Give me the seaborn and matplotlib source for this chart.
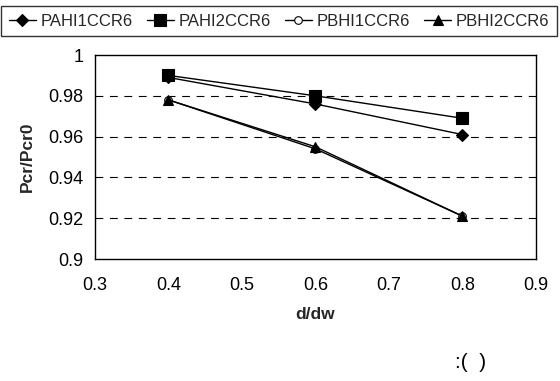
import matplotlib
matplotlib.use("Agg")
import matplotlib.pyplot as plt
import seaborn as sns
import pandas as pd

# Ratio d/dw and buckling load ratios Pcr/Pcr0 for each specimen series
d_dw = [0.4, 0.6, 0.8]
pahi1ccr6 = [0.989, 0.976, 0.961]
pahi2ccr6 = [0.990, 0.980, 0.969]
pbhi1ccr6 = [0.978, 0.954, 0.921]
pbhi2ccr6 = [0.978, 0.955, 0.921]

series_names = ["PAHI1CCR6", "PAHI2CCR6", "PBHI1CCR6", "PBHI2CCR6"]
series_values = [pahi1ccr6, pahi2ccr6, pbhi1ccr6, pbhi2ccr6]

x_ticks = [0.3, 0.4, 0.5, 0.6, 0.7, 0.8, 0.9]
y_ticks = [0.9, 0.92, 0.94, 0.96, 0.98, 1.0]
y_tick_labels = ["0.9", "0.92", "0.94", "0.96", "0.98", "1"]

sns.set_theme(style="white")
plt.rcParams["font.family"] = ["Liberation Sans", "DejaVu Sans"]

rows = []
for name, vals in zip(series_names, series_values):
    for xv, yv in zip(d_dw, vals):
        rows.append({"d/dw": xv, "Pcr/Pcr0": yv, "series": name})
df = pd.DataFrame(rows)

fig = plt.figure(figsize=(5.6, 3.81), dpi=100)
ax = fig.add_axes([0.1696, 0.3202, 0.957 - 0.1696, 0.8556 - 0.3202])

styles = {
    "PAHI1CCR6": dict(marker="D", ms=6.5, mfc="black"),
    "PAHI2CCR6": dict(marker="s", ms=8.5, mfc="black"),
    "PBHI1CCR6": dict(marker="o", ms=5.5, mfc="white"),
    "PBHI2CCR6": dict(marker="^", ms=6.5, mfc="black"),
}

handles = []
for name in series_names:
    sub = df[df["series"] == name]
    st = styles[name]
    sns.lineplot(data=sub, x="d/dw", y="Pcr/Pcr0", ax=ax, color="black",
                 linewidth=1.0, marker=st["marker"], markersize=st["ms"],
                 markerfacecolor=st["mfc"], markeredgecolor="black",
                 markeredgewidth=0.8, label=name, legend=False)
    handles.append(ax.lines[-1])

ax.set_xlim(0.3, 0.9)
ax.set_ylim(0.9, 1.0)
ax.set_xticks(x_ticks)
ax.set_xticklabels([f"{t:.1f}" for t in x_ticks])
ax.set_yticks(y_ticks)
ax.set_yticklabels(y_tick_labels)
for yv in y_ticks[1:-1]:
    ax.axhline(yv, color="black", linestyle=(0, (7, 6)), linewidth=0.8, zorder=0)

for sp in ax.spines.values():
    sp.set_color("black")
    sp.set_linewidth(1.0)
    sp.set_visible(True)

ax.tick_params(axis="both", direction="out", length=4, width=0.8, color="black",
               labelsize=13, labelcolor="black", pad=4)
ax.tick_params(axis="x", pad=9)
ax.set_xlabel("d/dw", fontsize=12.5, fontweight="bold", labelpad=9)
ax.set_ylabel("Pcr/Pcr0", fontsize=12.5, fontweight="bold", labelpad=10)

leg = fig.legend(handles=handles, labels=series_names, loc="upper center",
                 bbox_to_anchor=(0.4985, 0.993), ncol=4, frameon=True,
                 fontsize=12, handlelength=1.6, handletextpad=0.3,
                 columnspacing=0.85, borderpad=0.45, borderaxespad=0.2,
                 fancybox=False)
leg.get_frame().set_edgecolor("black")
leg.get_frame().set_linewidth(1.0)

fig.text(0.84, 0.035, ":(  )", fontsize=15, color="black", ha="center")

fig.savefig("out.png", dpi=100, facecolor="white")
